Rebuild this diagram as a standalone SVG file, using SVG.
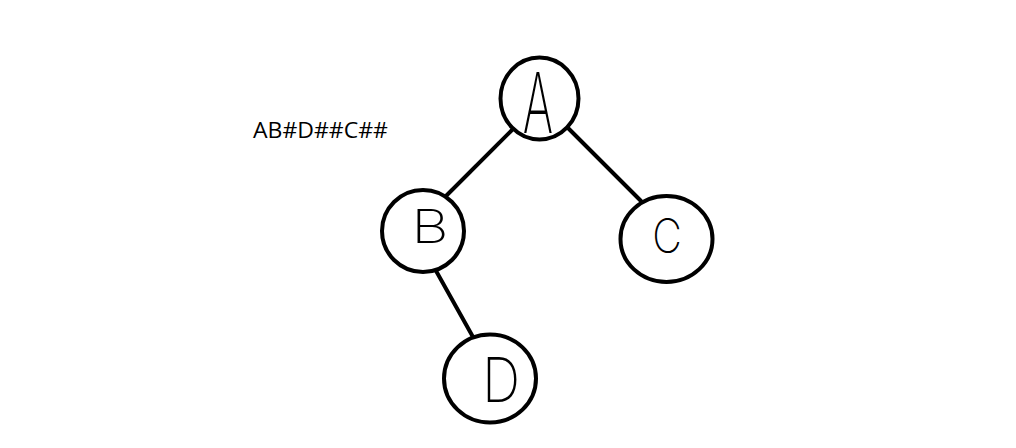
<svg xmlns="http://www.w3.org/2000/svg" width="1016" height="448" viewBox="0 0 1016 448">
<style>
.node{fill:#fff;stroke:#000;stroke-width:4}
.edge{stroke:#000;stroke-width:4;stroke-linecap:round;fill:none}
.lbl{font-family:Inter,"Noto Sans","DejaVu Sans",sans-serif;font-weight:200;fill:#000;text-anchor:middle}
.seq{font-family:"Open Sans","Noto Sans",sans-serif;font-size:22px;fill:#000}
</style>
<rect width="1016" height="448" fill="#fff"/>
<text class="seq" x="253" y="138" textLength="135" lengthAdjust="spacingAndGlyphs">AB#D##C##</text>
<g id="edges">
<line class="edge" x1="513" y1="129" x2="446" y2="196"/>
<line class="edge" x1="567" y1="127" x2="641" y2="201"/>
<line class="edge" x1="435" y1="269" x2="473" y2="337"/>
</g>
<g id="nodeA">
<ellipse class="node" cx="539.5" cy="98.5" rx="39" ry="41"/>
<text class="lbl" transform="translate(538 133) scale(0.55 1)" font-size="84">A</text>
</g>
<g id="nodeB">
<ellipse class="node" cx="423" cy="231" rx="41" ry="41"/>
<text class="lbl" transform="translate(430 243) scale(1.25 1)" font-size="46">B</text>
</g>
<g id="nodeC">
<ellipse class="node" cx="666.5" cy="239" rx="46" ry="43"/>
<text class="lbl" transform="translate(667 253) scale(0.85 1)" font-size="48">C</text>
</g>
<g id="nodeD">
<ellipse class="node" cx="490" cy="378.5" rx="46" ry="44"/>
<text class="lbl" transform="translate(501 402) scale(0.85 1)" font-size="62">D</text>
</g>
</svg>
